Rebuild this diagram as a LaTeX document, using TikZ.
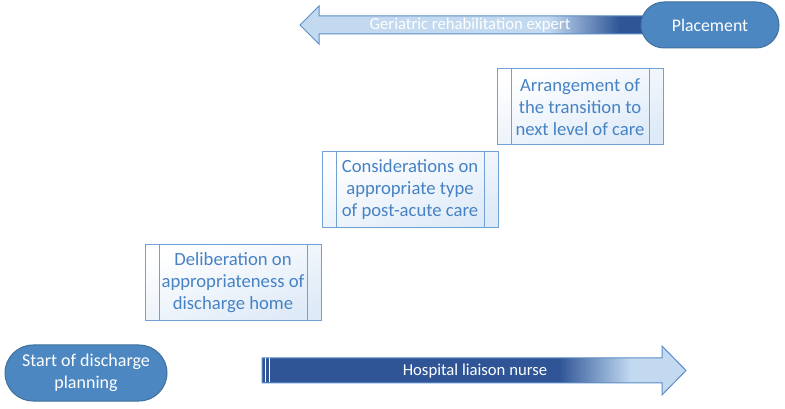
\documentclass[tikz,border=0pt]{standalone}
\usepackage{fontspec}
\setmainfont{Carlito}
\usetikzlibrary{shapes.misc}

\definecolor{darkarrow}{RGB}{47,85,151}
\definecolor{lightarrow}{RGB}{194,217,240}
\definecolor{arrowline}{RGB}{91,141,200}
\definecolor{termfill}{RGB}{76,135,193}
\definecolor{termline}{RGB}{65,113,156}
\definecolor{boxline}{RGB}{113,160,214}
\definecolor{boxtext}{RGB}{70,130,196}
\definecolor{boxfill}{RGB}{222,234,247}

% path width maps onto 25bp..75bp
\pgfdeclarehorizontalshading{geriatricgrad}{100bp}{color(0bp)=(lightarrow); color(60bp)=(lightarrow); color(70bp)=(darkarrow); color(100bp)=(darkarrow)}
\pgfdeclarehorizontalshading{nursegrad}{100bp}{color(0bp)=(darkarrow); color(60bp)=(darkarrow); color(68.5bp)=(lightarrow); color(100bp)=(lightarrow)}

\tikzset{every picture/.style={line width=0.75pt}}
\tikzset{
  terminal/.style={rounded rectangle, draw=termline, fill=termfill, text=white, align=center, inner sep=0.75pt},
  procbox/.style={rectangle, draw=boxline, shading=axis, top color=boxfill, bottom color=white, shading angle=200,
    text=boxtext, align=center, minimum height=56.5pt, inner sep=0.75pt, font=\fontsize{14}{16.5}\selectfont,
    path picture={
      \draw[boxline] ([xshift=10.5pt]path picture bounding box.north west) -- ([xshift=10.5pt]path picture bounding box.south west);
      \draw[boxline] ([xshift=-10.5pt]path picture bounding box.north east) -- ([xshift=-10.5pt]path picture bounding box.south east);
    }},
  arrowtext/.style={text=white, inner sep=0.75pt, font=\fontsize{12.5}{14}\selectfont}
}

\begin{document}
\begin{tikzpicture}[x=0.75pt,y=0.75pt,yscale=-1,xscale=1]
\useasboundingbox (0,0) rectangle (785,409);

%Shape: Left Arrow [id:geriatric]
\shade [shading=geriatricgrad, draw=arrowline] (655,16) -- (319,16) -- (319,6) -- (300,25) -- (319,44) -- (319,34) -- (655,34) -- cycle ;
%Shape: Right Arrow [id:nurse]
\shade [shading=nursegrad, draw=arrowline] (262,358) -- (662,358) -- (662,346) -- (686,370.5) -- (662,395) -- (662,383) -- (262,383) -- cycle ;
\draw [white, line width=0.9pt] (265.5,358.5) -- (265.5,382.5) ;
\draw [white, line width=0.9pt] (269.5,358.5) -- (269.5,382.5) ;

%Shape: Terminators
\node [terminal, minimum width=105pt, minimum height=34.5pt, font=\fontsize{13.3}{16}\selectfont] (placement) at (710,25) {Placement};
\node [terminal, minimum width=123pt, minimum height=42pt, font=\fontsize{13.5}{16.5}\selectfont] (start) at (86,373) {Start of discharge\\planning};

%Shape: Predefined Process
\node [procbox, minimum width=132pt] (deliberation) at (233,282.5) {Deliberation on\\appropriateness of\\discharge home};
\node [procbox, minimum width=132pt] (considerations) at (410,189.5) {Considerations on\\appropriate type\\of post-acute care};
\node [procbox, minimum width=124.5pt, minimum height=57pt] (arrangement) at (580,107) {Arrangement of\\the transition to\\next level of care};

% Text Node
\node [arrowtext] (expert) at (470,25) {Geriatric rehabilitation expert};
% Text Node
\node [arrowtext] (liaison) at (475,371) {Hospital liaison nurse};

\end{tikzpicture}
\end{document}
